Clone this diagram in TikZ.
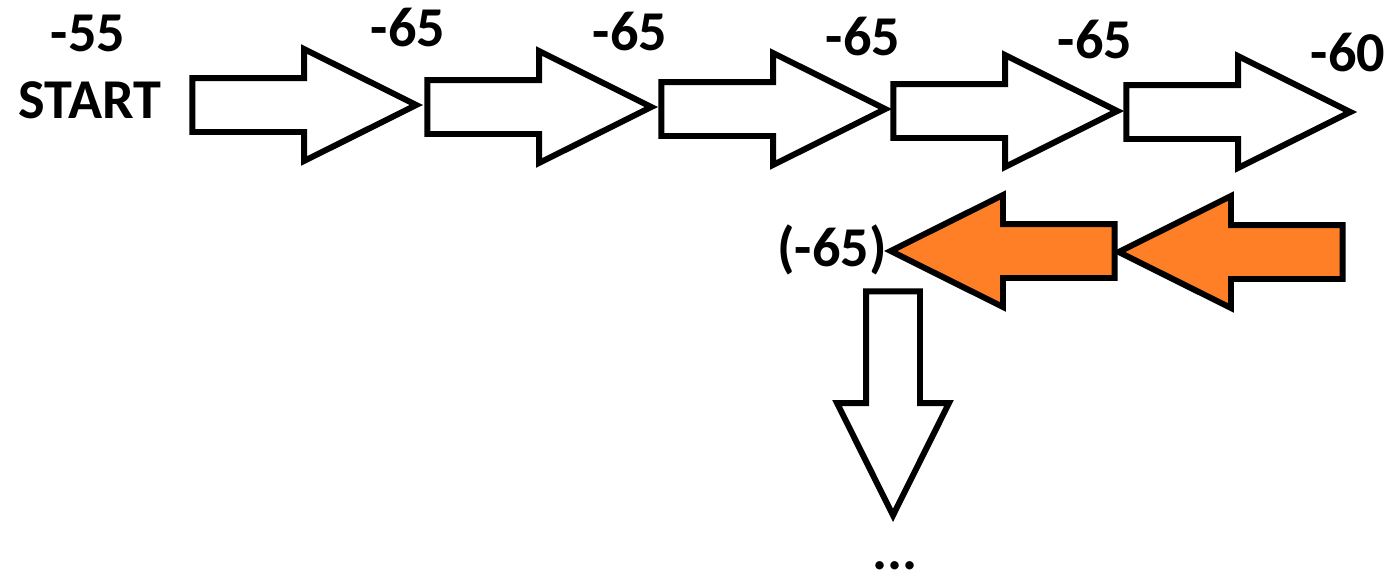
\documentclass[tikz,border=0pt]{standalone}
\usepackage{fontspec}
\setmainfont{Carlito}
\usetikzlibrary{shapes.arrows}

\definecolor{hitorange}{RGB}{255,127,39}

\begin{document}
\begin{tikzpicture}[
    blk/.style={single arrow,draw,line width=3.4pt,line join=miter,inner xsep=0pt,inner ysep=0.48cm,
      single arrow head extend=0.58cm,single arrow tip angle=53,minimum height=4.48cm,anchor=tip},
    lbl/.style={font=\bfseries\fontsize{32}{38}\selectfont,inner sep=0pt}]
        \useasboundingbox (0,0) rectangle (27.88,11.62);
        % forward pass, placed by the tips
        \node[blk] (a1) at (8.46,9.52) {};
        \node[blk] (a2) at (13.16,9.48) {};
        \node[blk] (a3) at (17.84,9.44) {};
        \node[blk] (a4) at (22.48,9.40) {};
        \node[blk] (a5) at (27.14,9.38) {};
        \node[lbl] (start) at (1.8,9.62) {START};
        \node[lbl] (v0) at (1.76,10.96) {-55};
        \node[lbl] (v1) at (8.16,11.06) {-65};
        \node[lbl] (v2) at (12.6,10.98) {-65};
        \node[lbl] (v3) at (17.26,10.88) {-65};
        \node[lbl] (v4) at (21.9,10.82) {-65};
        \node[lbl] (v5) at (26.96,10.56) {-60};
        % going back
        \node[blk,fill=hitorange,rotate=180] (b1) at (17.68,6.6) {};
        \node[blk,fill=hitorange,rotate=180] (b2) at (22.24,6.58) {};
        \node[lbl,anchor=east] (back) at (17.74,6.62) {(-65)};
        % and on
        \node[blk,rotate=-90] (d) at (17.86,1.18) {};
        \node[lbl] (dots) at (17.9,0.3) {...};
      \end{tikzpicture}
\end{document}
